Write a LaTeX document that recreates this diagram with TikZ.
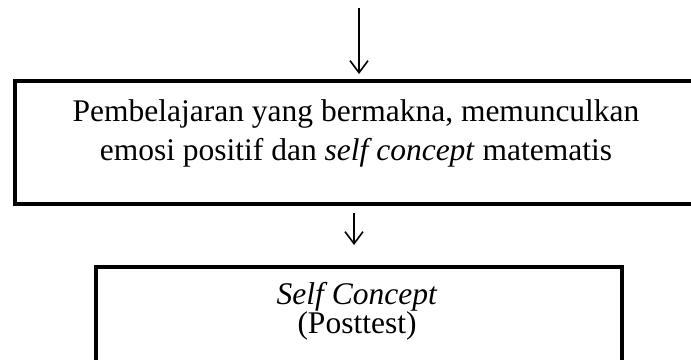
\documentclass[tikz,border=0pt]{standalone}
\usepackage{fontspec}
\setmainfont{Liberation Serif}
\usepackage{tikz}
\usetikzlibrary{arrows.meta}

\tikzset{
  boxline/.style={line width=4pt,line cap=rect},
  flowarrow/.style={line width=1.6pt,-{Straight Barb[length=12pt,width=18pt,line width=1.6pt]}},
  boxtext/.style={font=\fontsize{31.5}{39}\selectfont,align=center,inner sep=0pt}
}

\begin{document}
\begin{tikzpicture}[x=1pt,y=-1pt]
            \useasboundingbox (0,0) rectangle (691,359);
            % first box, open on the right
            \draw[boxline] (691,81)--(15,81)--(15,204)--(691,204);
            % second box, open at the bottom
            \draw[boxline] (96,362)--(96,267)--(622,267)--(622,362);

            \node[boxtext] (learn) at (356,133) {Pembelajaran yang bermakna, memunculkan\\emosi positif dan \textit{self concept} matematis};
            \node[boxtext,font=\fontsize{31.5}{29}\selectfont] (post) at (357,311) {\textit{Self Concept}\\(Posttest)};

            \coordinate (start) at (359,8);
            \coordinate (intop) at (359,74);
            \coordinate (outbot) at (354,213);
            \coordinate (posttop) at (354,245);
            \draw[flowarrow] (start)--(intop);
            \draw[flowarrow] (outbot)--(posttop);
\end{tikzpicture}
\end{document}
